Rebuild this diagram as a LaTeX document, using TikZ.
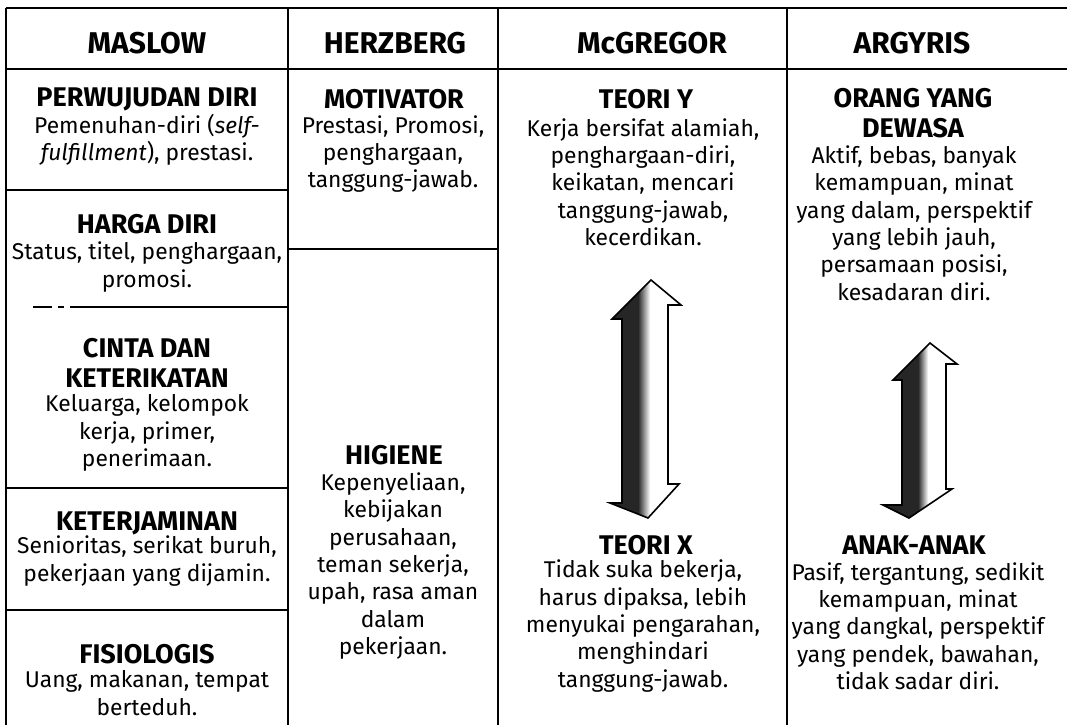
\documentclass[tikz,border=0pt]{standalone}
\usepackage{fontspec}
\setmainfont{Fira Sans}
\begin{document}
\begin{tikzpicture}[x=1pt,y=-1pt]
\tikzset{
  rule/.style={line width=1.4pt, black},
  colhead/.style={font=\fontsize{30}{34}\selectfont\bfseries, inner sep=0pt},
  sub/.style={font=\fontsize{27}{30}\selectfont\bfseries, align=center, inner sep=0pt},
  body/.style={font=\fontsize{22.8}{27.3}\selectfont, align=center, inner sep=0pt},
  arrowedge/.style={line width=1.6pt, line join=miter},
}
\useasboundingbox (0,0) rectangle (1067,725);
\fill[white] (0,0) rectangle (1067,725);

% grid of the table
\draw[rule] (6,8) -- (1067,8);
\draw[rule] (6,69) -- (1067,69);
\draw[rule] (6,8) -- (6,725);
\draw[rule] (288,8) -- (288,725);
\draw[rule] (498,8) -- (498,725);
\draw[rule] (787,8) -- (787,725);
\draw[rule] (6,190) -- (288,190);
\draw[rule] (288,249) -- (498,249);
\draw[rule] (33,307) -- (52,307);
\draw[rule] (58,307) -- (64,307);
\draw[rule] (70,307) -- (288,307);
\draw[rule] (6,488) -- (288,488);
\draw[rule] (6,610) -- (288,610);

% column titles
\node[colhead] (tmaslow) at (147,43) {MASLOW};
\node[colhead] (therz) at (395,43) {HERZBERG};
\node[colhead] (tmcg) at (652,43) {McGREGOR};
\node[colhead] (targ) at (912,43) {ARGYRIS};

% Maslow
\node[sub] (m1h) at (147,99) {PERWUJUDAN DIRI};
\node[body] (m1b) at (147,140) {Pemenuhan-diri (\textit{self-}\\\textit{fulfillment}), prestasi.};
\node[sub] (m2h) at (147,224) {HARGA DIRI};
\node[body] (m2b) at (147,267) {Status, titel, penghargaan,\\promosi.};
\node[sub] (m3h) at (147,363) {CINTA DAN\\KETERIKATAN};
\node[body] (m3b) at (147,433) {Keluarga, kelompok\\kerja, primer,\\penerimaan.};
\node[sub] (m4h) at (147,523) {KETERJAMINAN};
\node[body] (m4b) at (147,561) {Senioritas, serikat buruh,\\pekerjaan yang dijamin.};
\node[sub] (m5h) at (147,654) {FISIOLOGIS};
\node[body] (m5b) at (147,693) {Uang, makanan, tempat\\berteduh.};

% Herzberg
\node[sub] (h1h) at (394,99) {MOTIVATOR};
\node[body] (h1b) at (393,154) {Prestasi, Promosi,\\penghargaan,\\tanggung-jawab.};
\node[sub] (h2h) at (394,455) {HIGIENE};
\node[body] (h2b) at (393,566) {Kepenyeliaan,\\kebijakan\\perusahaan,\\teman sekerja,\\upah, rasa aman\\dalam\\pekerjaan.};

% McGregor
\node[sub] (g1h) at (646,99) {TEORI Y};
\node[body] (g1b) at (643,182) {Kerja bersifat alamiah,\\penghargaan-diri,\\keikatan, mencari\\tanggung-jawab,\\kecerdikan.};
\node[sub] (g2h) at (646,545) {TEORI X};
\node[body] (g2b) at (643,626) {Tidak suka bekerja,\\harus dipaksa, lebih\\menyukai pengarahan,\\menghindari\\tanggung-jawab.};

% Argyris
\node[sub] (a1h) at (913,113) {ORANG YANG\\DEWASA};
\node[body] (a1b) at (914,223) {Aktif, bebas, banyak\\kemampuan, minat\\yang dalam, perspektif\\yang lebih jauh,\\persamaan posisi,\\kesadaran diri.};
\node[sub] (a2h) at (914,545) {ANAK-ANAK};
\node[body] (a2b) at (918,626) {Pasif, tergantung, sedikit\\kemampuan, minat\\yang dangkal, perspektif\\yang pendek, bawahan,\\tidak sadar diri.};

% double arrow between Teori X and Teori Y
\def\arrowY{(651,280) -- (681,305) -- (668,305) -- (668,484) -- (679,484) -- (648,518) -- (610,503) -- (622,503) -- (622,319) -- (612,319) -- cycle}
\fill[white] \arrowY;
\begin{scope}
  \clip \arrowY;
  \fill[black!85] (600,270) rectangle (638,530);
  \shade[left color=black!85, right color=white] (638,270) rectangle (650,530);
\end{scope}
\draw[arrowedge] \arrowY;

% double arrow between Anak-anak and Orang yang dewasa
\def\arrowA{(930,343) -- (957,364) -- (946,364) -- (946,489) -- (952,489) -- (909,518) -- (883,505) -- (902,505) -- (902,380) -- (893,380) -- cycle}
\fill[white] \arrowA;
\begin{scope}
  \clip \arrowA;
  \fill[black!85] (880,330) rectangle (918,530);
  \shade[left color=black!85, right color=white] (918,330) rectangle (928,530);
\end{scope}
\draw[arrowedge] \arrowA;
\end{tikzpicture}
\end{document}
